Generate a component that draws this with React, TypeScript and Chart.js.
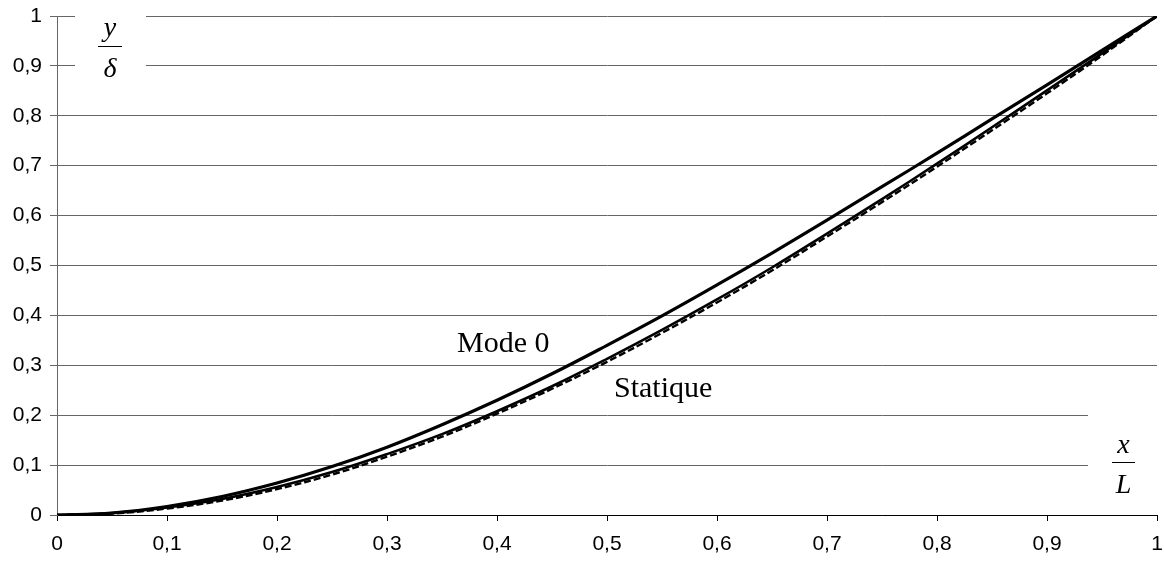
import React, { useEffect, useRef } from 'react';
import { Chart, registerables } from 'chart.js';

Chart.register(...registerables);

const xValues = [0, 0.05, 0.1, 0.15, 0.2, 0.25, 0.3, 0.35, 0.4, 0.45, 0.5, 0.55, 0.6, 0.65, 0.7, 0.75, 0.8, 0.85, 0.9, 0.95, 1];
const mode0 = [0, 0.004, 0.017, 0.037, 0.064, 0.097, 0.136, 0.181, 0.230, 0.283, 0.340, 0.399, 0.461, 0.525, 0.591, 0.658, 0.725, 0.794, 0.862, 0.931, 1];
const statique = [0, 0.004, 0.015, 0.032, 0.056, 0.086, 0.122, 0.162, 0.208, 0.258, 0.313, 0.371, 0.432, 0.496, 0.564, 0.633, 0.704, 0.777, 0.851, 0.925, 1];
const statiqueBis = [0, 0.003, 0.013, 0.029, 0.052, 0.081, 0.117, 0.157, 0.203, 0.253, 0.307, 0.365, 0.426, 0.490, 0.558, 0.627, 0.698, 0.771, 0.845, 0.921, 1];

const seriesLabels = ['Mode 0', 'Statique'];
const yAxisLabel = ['y', 'δ'];
const xAxisLabel = ['x', 'L'];

const fmt = (v: number) => String(Number(v.toFixed(1))).replace('.', ',');

const zeroPad = (s: any) => {
  s.paddingLeft = 0;
  s.paddingRight = 0;
  s.paddingTop = 0;
  s.paddingBottom = 0;
};

const overlayPlugin = {
  id: 'overlay',
  beforeDatasetsDraw(chart: any) {
    const ctx = chart.ctx;
    ctx.save();
    ctx.fillStyle = '#ffffff';
    ctx.fillRect(75, 8, 71, 66);
    ctx.fillRect(1088, 405, 76, 95);
    ctx.fillStyle = '#000';
    ctx.strokeStyle = '#000';
    ctx.lineWidth = 1;
    ctx.textAlign = 'center';
    ctx.textBaseline = 'alphabetic';
    // y / delta
    ctx.font = 'italic 28px "Liberation Serif"';
    ctx.fillText(yAxisLabel[0], 110, 36);
    ctx.fillText(yAxisLabel[1], 110, 77);
    ctx.beginPath();
    ctx.moveTo(98, 46.5);
    ctx.lineTo(122, 46.5);
    ctx.stroke();
    // x / L
    ctx.fillText(xAxisLabel[0], 1123.5, 453);
    ctx.fillText(xAxisLabel[1], 1123.5, 493);
    ctx.beginPath();
    ctx.moveTo(1112, 462.5);
    ctx.lineTo(1135, 462.5);
    ctx.stroke();
    // series labels
    ctx.font = '30px "Liberation Serif"';
    ctx.textAlign = 'left';
    ctx.fillText(seriesLabels[0], 457, 352);
    ctx.fillText(seriesLabels[1], 614, 397);
    ctx.restore();
  },
};

export default function App() {
  const ref = useRef<HTMLCanvasElement>(null);
  useEffect(() => {
    const toPts = (ys: number[]) => xValues.map((x, i) => ({ x, y: ys[i] }));
    const chart = new Chart(ref.current as HTMLCanvasElement, {
      type: 'line',
      data: {
        datasets: [
          { label: seriesLabels[0], data: toPts(mode0), borderColor: '#000', borderWidth: 3.2, pointRadius: 0, tension: 0.4, fill: false },
          { label: seriesLabels[1], data: toPts(statique), borderColor: '#000', borderWidth: 2.6, pointRadius: 0, tension: 0.4, fill: false },
          { label: seriesLabels[1] + ' bis', data: toPts(statiqueBis), borderColor: '#000', borderWidth: 2.4, borderDash: [7, 3], pointRadius: 0, tension: 0.4, fill: false },
        ],
      },
      options: {
        animation: false,
        responsive: false,
        maintainAspectRatio: false,
        layout: { autoPadding: false, padding: { top: 16, right: 7, left: 0, bottom: 0 } },
        plugins: { legend: { display: false }, tooltip: { enabled: false } },
        scales: {
          x: {
            type: 'linear',
            min: 0,
            max: 1,
            ticks: { stepSize: 0.1, callback: (v: any) => fmt(Number(v)), color: '#000', font: { family: 'Liberation Sans', size: 21 }, padding: 11, maxRotation: 0 },
            grid: { drawOnChartArea: false, drawTicks: true, tickLength: 6, color: '#000' },
            border: { color: '#000', width: 1 },
            afterFit: (s: any) => { s.height = 46; zeroPad(s); },
          },
          y: {
            type: 'linear',
            min: 0,
            max: 1,
            ticks: { stepSize: 0.1, callback: (v: any) => fmt(Number(v)), color: '#000', font: { family: 'Liberation Sans', size: 21 }, padding: 8 },
            grid: { drawOnChartArea: true, drawTicks: true, tickLength: 7, color: '#666' },
            border: { color: '#666', width: 1 },
            afterFit: (s: any) => { s.width = 57; zeroPad(s); },
          },
        },
      },
      plugins: [overlayPlugin],
    });
    return () => chart.destroy();
  }, []);
  return (
    <div style={{ position: 'fixed', left: 0, top: 0, width: 1164, height: 561, background: '#fff' }}>
      <canvas ref={ref} width={1164} height={561} style={{ width: 1164, height: 561 }} />
    </div>
  );
}
